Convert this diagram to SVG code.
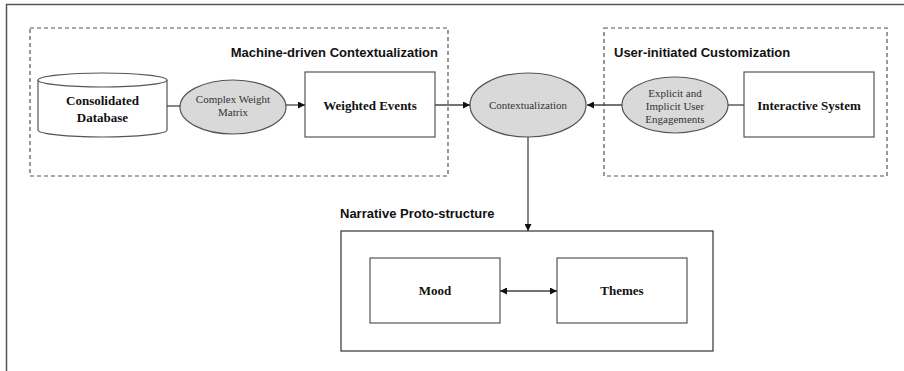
<svg xmlns="http://www.w3.org/2000/svg" width="904" height="371" viewBox="0 0 904 371">
<defs>
<style>
.frame{fill:none;stroke:#555;stroke-width:1.5}
.dash{fill:none;stroke:#555;stroke-width:1.2;stroke-dasharray:4 3}
.box{fill:#fff;stroke:#555;stroke-width:1.2}
.ell{fill:#d9d9d9;stroke:#555;stroke-width:1.2}
.conn{fill:none;stroke:#444;stroke-width:1.3}
.title{font-family:"Liberation Sans",Arial,sans-serif;font-weight:bold;font-size:13px;fill:#111}
.lbl{font-family:"Liberation Serif","Times New Roman",serif;font-weight:bold;font-size:13px;fill:#111;text-anchor:middle}
.elbl{font-family:"Liberation Serif","Times New Roman",serif;font-size:11px;fill:#333;text-anchor:middle}
</style>
<marker id="arr" viewBox="0 0 10 10" refX="10" refY="5" markerWidth="7" markerHeight="7" markerUnits="userSpaceOnUse" orient="auto-start-reverse">
<path d="M0,0 L10,5 L0,10 z" fill="#111"/>
</marker>
</defs>
<rect width="904" height="371" fill="#fff"/>
<path class="frame" d="M6.5,380 V4.5 H910"/>

<g id="machine-group">
<rect class="dash" x="30" y="28" width="418" height="148"/>
<text class="title" x="438" y="57" text-anchor="end">Machine-driven Contextualization</text>
</g>
<g id="user-group">
<rect class="dash" x="604" y="28" width="283" height="148"/>
<text class="title" x="614" y="57">User-initiated Customization</text>
</g>

<g id="database">
<path class="box" d="M38,80 V130 A64.5,7 0 0 0 167,130 V80"/>
<ellipse class="box" cx="102.5" cy="80" rx="64.5" ry="7"/>
<text class="lbl" x="102.5" y="105">Consolidated</text>
<text class="lbl" x="102.5" y="122">Database</text>
</g>
<g id="weight-matrix">
<ellipse class="ell" cx="233" cy="107" rx="53" ry="27"/>
<text class="elbl" x="233" y="103">Complex Weight</text>
<text class="elbl" x="233" y="116">Matrix</text>
</g>
<g id="weighted-events">
<rect class="box" x="305" y="72" width="130" height="65"/>
<text class="lbl" x="370" y="110">Weighted Events</text>
</g>
<g id="contextualization">
<ellipse class="ell" cx="528" cy="105" rx="58" ry="32"/>
<text class="elbl" x="528" y="109">Contextualization</text>
</g>
<g id="engagements">
<ellipse class="ell" cx="675" cy="105" rx="53" ry="28"/>
<text class="elbl" x="675" y="97">Explicit and</text>
<text class="elbl" x="675" y="110">Implicit User</text>
<text class="elbl" x="675" y="123">Engagements</text>
</g>
<g id="interactive-system">
<rect class="box" x="744" y="72" width="130" height="65"/>
<text class="lbl" x="809" y="110">Interactive System</text>
</g>

<g id="narrative">
<text class="title" x="340" y="218">Narrative Proto-structure</text>
<rect x="341" y="231" width="372" height="120" fill="none" stroke="#333" stroke-width="1.2"/>
</g>
<g id="mood">
<rect class="box" x="370" y="258" width="130" height="65"/>
<text class="lbl" x="435" y="295">Mood</text>
</g>
<g id="themes">
<rect class="box" x="557" y="258" width="130" height="65"/>
<text class="lbl" x="622" y="295">Themes</text>
</g>

<g id="connectors">
<line class="conn" x1="167" y1="106" x2="180" y2="106"/>
<line class="conn" x1="286" y1="105" x2="305" y2="105" marker-end="url(#arr)"/>
<line class="conn" x1="435" y1="105" x2="470" y2="105" marker-end="url(#arr)"/>
<line class="conn" x1="622" y1="105" x2="587" y2="105" marker-end="url(#arr)"/>
<line class="conn" x1="728" y1="105" x2="744" y2="105"/>
<line class="conn" x1="528" y1="137" x2="528" y2="231" marker-end="url(#arr)"/>
<line class="conn" x1="500" y1="291" x2="557" y2="291" marker-start="url(#arr)" marker-end="url(#arr)"/>
</g>
</svg>
